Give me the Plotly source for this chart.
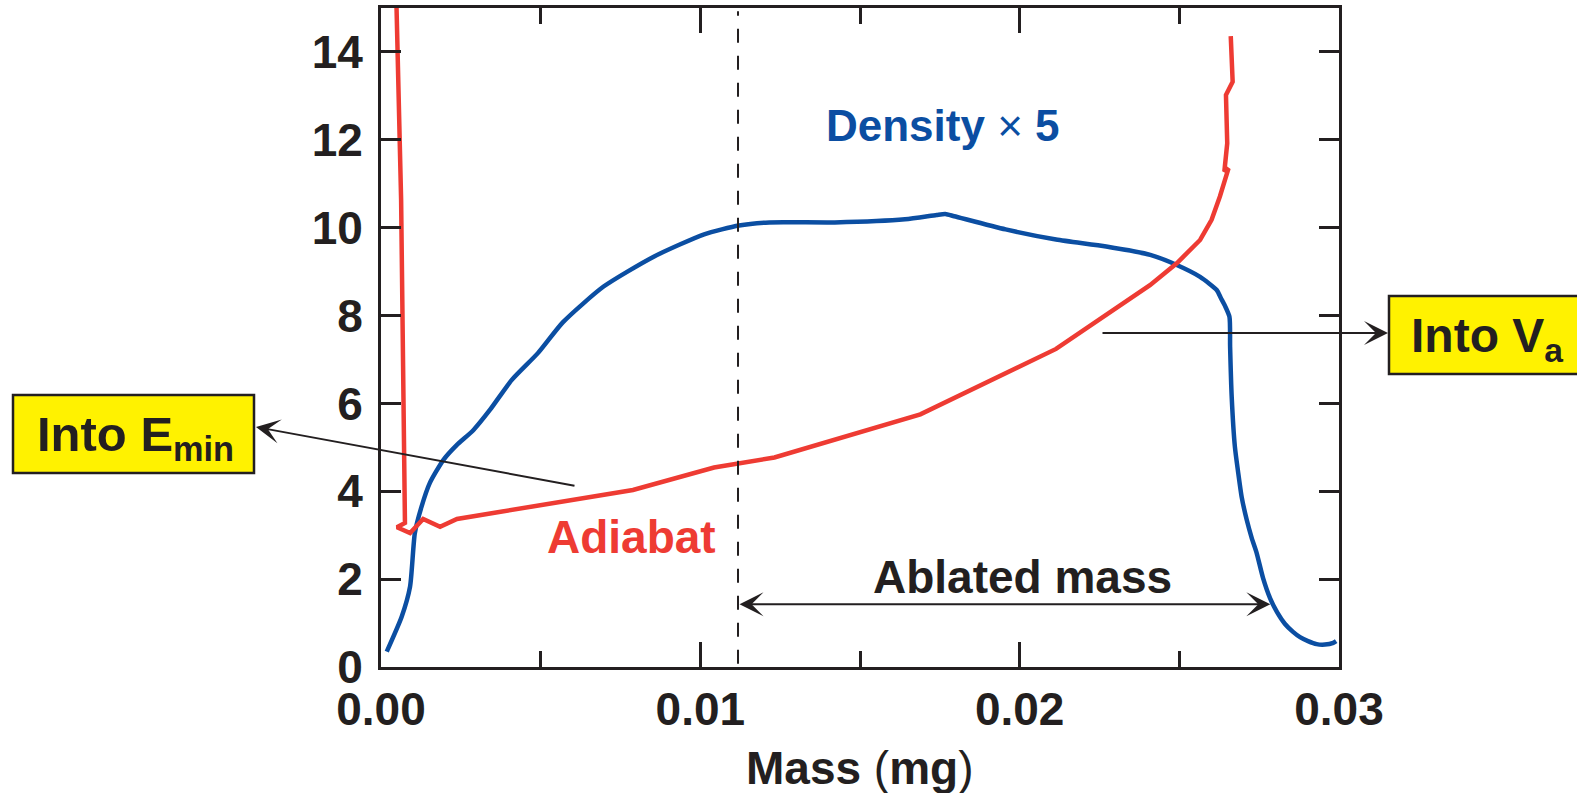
import plotly.graph_objects as go

# ---------------- data ----------------
density_mass = [0.00018, 0.00065, 0.00091, 0.00106, 0.00127, 0.00153, 0.00195, 0.00237,
                0.00289, 0.00341, 0.00409, 0.00492, 0.0057, 0.00697, 0.00854, 0.01012,
                0.01121, 0.01216, 0.01421, 0.01641, 0.0174, 0.01767, 0.01795, 0.01956,
                0.02114, 0.02271, 0.02409, 0.02492, 0.02565, 0.02617, 0.0263, 0.02643,
                0.02657, 0.02659, 0.02664, 0.02674, 0.02684, 0.02695, 0.02711, 0.02727,
                0.02742, 0.02762, 0.02784, 0.02806, 0.02831, 0.02856, 0.02878, 0.02903,
                0.0293, 0.02956, 0.02982, 0.02991]
density_x5 = [0.35, 1.15, 1.83, 3.05, 3.65, 4.19, 4.71, 5.05,
              5.39, 5.85, 6.53, 7.15, 7.85, 8.66, 9.34, 9.85,
              10.05, 10.12, 10.12, 10.19, 10.29, 10.31, 10.26, 9.96,
              9.73, 9.57, 9.38, 9.15, 8.88, 8.58, 8.4, 8.22,
              7.97, 7.29, 6.15, 5.01, 4.44, 3.88, 3.35, 2.93,
              2.6, 2.03, 1.57, 1.25, 0.98, 0.8, 0.68, 0.59,
              0.52, 0.51, 0.55, 0.59]

adiabat_mass = [0.00048, 0.00063, 0.00075, 0.0005, 0.00091, 0.00132, 0.00185, 0.00238,
                0.00789, 0.01043, 0.01232, 0.01689, 0.02114, 0.02408, 0.02492, 0.02565,
                0.02601, 0.02627, 0.02654, 0.02641, 0.0265, 0.02646, 0.02667, 0.02661]
adiabat = [15.2, 10.63, 3.28, 3.18, 3.05, 3.37, 3.19, 3.37,
           4.03, 4.54, 4.77, 5.75, 7.24, 8.69, 9.19, 9.72,
           10.18, 10.71, 11.35, 11.28, 11.92, 13.02, 13.32, 14.36]

ablation_front = 0.01118      # dashed line position (mg)
ablated_end = 0.02785         # end of "Ablated mass" arrow (mg)
ablated_arrow_y = 1.43

x_tickvals = [0.0, 0.01, 0.02, 0.03]
x_ticktext = ["0.00", "0.01", "0.02", "0.03"]
x_minor_tickvals = [0.005, 0.015, 0.025]
y_tickvals = [0, 2, 4, 6, 8, 10, 12, 14]
y_ticktext = ["0", "2", "4", "6", "8", "10", "12", "14"]

# ---------------- styles ----------------
BLUE = "#0b4ea2"
RED = "#ee3b33"
INK = "#231f20"
YELLOW = "#fff200"
FONT = "Liberation Sans"

W, H = 1577, 793
L, R, T, B = 381, 1339, 8, 667


def px(xp):
    return (xp - L) / (R - L)


def py(yp):
    return (B - yp) / (B - T)


fig = go.Figure()
fig.add_trace(go.Scatter(x=density_mass, y=density_x5, mode="lines",
                         line=dict(color=BLUE, width=4.5, shape="spline", smoothing=0.6),
                         showlegend=False))
fig.add_trace(go.Scatter(x=adiabat_mass, y=adiabat, mode="lines",
                         line=dict(color=RED, width=4.5), showlegend=False))

axis_common = dict(showline=True, linecolor=INK, linewidth=3, mirror="ticks",
                   ticks="inside", tickwidth=2.5, tickcolor=INK,
                   showgrid=False, zeroline=False,
                   tickfont=dict(family=FONT, size=46, color=INK, weight="bold"))

fig.update_xaxes(range=[0, 0.03], tickmode="array", tickvals=x_tickvals,
                 ticktext=x_ticktext, ticklen=25, ticklabelstandoff=0,
                 minor=dict(tickmode="array", tickvals=x_minor_tickvals, ticks="inside",
                            ticklen=16, tickwidth=2.5, tickcolor=INK, showgrid=False),
                 **axis_common)
fig.update_yaxes(range=[0, 15], tickmode="array", tickvals=y_tickvals,
                 ticktext=y_ticktext, ticklen=20, ticklabelstandoff=6, **axis_common)

shapes = [
    dict(type="line", xref="x", yref="paper", x0=ablation_front, x1=ablation_front,
         y0=0.005, y1=0.995, line=dict(color=INK, width=2, dash="14px,13px")),
    dict(type="rect", xref="paper", yref="paper", x0=px(13), x1=px(254), y0=py(473), y1=py(395),
         fillcolor=YELLOW, line=dict(color=INK, width=2.5), layer="above"),
    dict(type="rect", xref="paper", yref="paper", x0=px(1389), x1=px(1590), y0=py(374), y1=py(296),
         fillcolor=YELLOW, line=dict(color=INK, width=2.5), layer="above"),
]

lbl = dict(xref="paper", yref="paper", showarrow=False, xanchor="center", yanchor="middle")
annotations = [
    dict(text="<b>Density</b> × <b>5</b>", x=px(943), y=py(125),
         font=dict(family=FONT, size=44, color=BLUE), **lbl),
    dict(text="Adiabat", x=px(631), y=py(537),
         font=dict(family=FONT, size=46, color=RED, weight="bold"), **lbl),
    dict(text="Ablated mass", x=px(1022), y=py(577),
         font=dict(family=FONT, size=46, color=INK, weight="bold"), **lbl),
    dict(text="<b>Mass</b> (<b>mg</b>)", x=0.5, y=py(768),
         font=dict(family=FONT, size=46, color=INK), **lbl),
    dict(text="Into E<sub>min</sub>", x=px(135), y=py(438),
         font=dict(family=FONT, size=49, color=INK, weight="bold"), **lbl),
    dict(text="Into V<sub>a</sub>", x=px(1487), y=py(339),
         font=dict(family=FONT, size=48, color=INK, weight="bold"), **lbl),
    # ablated mass double arrow
    dict(text="", xref="x", yref="y", x=ablated_end, y=ablated_arrow_y,
         axref="x", ayref="y", ax=ablation_front, ay=ablated_arrow_y,
         showarrow=True, arrowside="end+start", arrowhead=3, startarrowhead=3,
         arrowsize=2, startarrowsize=2, arrowwidth=2, arrowcolor=INK),
    # Into E_min arrow
    dict(text="", xref="paper", yref="paper", x=px(256), y=py(427),
         ax=576 - 256, ay=486 - 427, showarrow=True, arrowhead=3, arrowsize=2,
         arrowwidth=2, arrowcolor=INK),
    # Into V_a arrow
    dict(text="", xref="paper", yref="paper", x=px(1388), y=py(333),
         ax=1101 - 1388, ay=0, showarrow=True, arrowhead=3, arrowsize=2,
         arrowwidth=2, arrowcolor=INK),
]

fig.update_layout(width=W, height=H, margin=dict(l=L, r=W - R, t=T, b=H - B, autoexpand=False),
                  plot_bgcolor="white", paper_bgcolor="white",
                  font=dict(family=FONT, color=INK),
                  shapes=shapes, annotations=annotations)

fig.write_html("out.html", config={"displayModeBar": False},
               post_script="document.body.style.margin='0px';document.body.style.overflow='hidden';")
